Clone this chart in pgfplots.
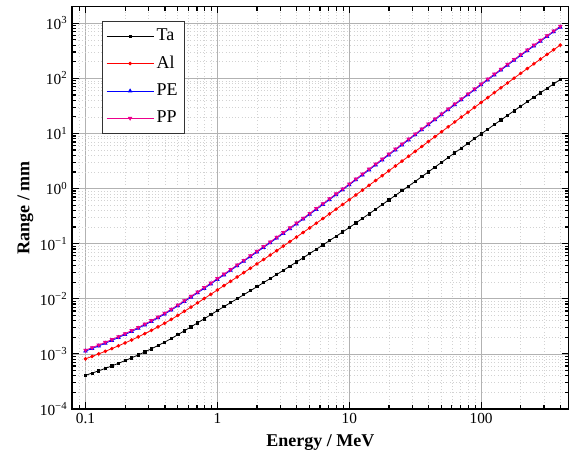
\documentclass[border=0pt]{standalone}
\usepackage{fontspec}
\setmainfont{Liberation Serif}
\usepackage{pgfplots}
\usepackage{pgfplotstable}
\pgfplotsset{compat=1.18}

% proton range (mm) vs energy (MeV)
\pgfplotstableread{
E      Ta        Al        PE        PP
0.1    4.074e-4  8.128e-4  1.122e-3  1.167e-3
0.1122 4.470e-4  8.992e-4  1.247e-3  1.297e-3
0.1259 4.924e-4  9.985e-4  1.391e-3  1.447e-3
0.1413 5.445e-4  1.113e-3  1.558e-3  1.620e-3
0.1585 6.044e-4  1.245e-3  1.751e-3  1.821e-3
0.1778 6.734e-4  1.399e-3  1.976e-3  2.055e-3
0.1995 7.534e-4  1.578e-3  2.239e-3  2.329e-3
0.2239 8.465e-4  1.787e-3  2.547e-3  2.649e-3
0.2512 9.557e-4  2.033e-3  2.912e-3  3.028e-3
0.2818 1.084e-3  2.326e-3  3.346e-3  3.480e-3
0.3162 1.236e-3  2.673e-3  3.864e-3  4.019e-3
0.3548 1.414e-3  3.086e-3  4.491e-3  4.671e-3
0.3981 1.631e-3  3.592e-3  5.264e-3  5.475e-3
0.4467 1.896e-3  4.215e-3  6.220e-3  6.469e-3
0.5012 2.224e-3  4.989e-3  7.413e-3  7.710e-3
0.5623 2.620e-3  5.933e-3  8.878e-3  9.233e-3
0.6310 3.092e-3  7.068e-3  1.065e-2  1.108e-2
0.7079 3.656e-3  8.431e-3  1.279e-2  1.330e-2
0.7943 4.328e-3  1.007e-2  1.539e-2  1.601e-2
0.8913 5.132e-3  1.206e-2  1.855e-2  1.929e-2
1      6.096e-3  1.446e-2  2.239e-2  2.329e-2
1.122  7.187e-3  1.730e-2  2.704e-2  2.812e-2
1.259  8.483e-3  2.072e-2  3.269e-2  3.400e-2
1.413  1.001e-2  2.484e-2  3.954e-2  4.112e-2
1.585  1.183e-2  2.979e-2  4.787e-2  4.978e-2
1.778  1.399e-2  3.573e-2  5.795e-2  6.027e-2
1.995  1.654e-2  4.290e-2  7.022e-2  7.303e-2
2.239  1.958e-2  5.156e-2  8.518e-2  8.859e-2
2.512  2.321e-2  6.202e-2  0.1034    0.1075
2.818  2.754e-2  7.476e-2  0.1258    0.1308
3.162  3.273e-2  9.015e-2  0.1531    0.1592
3.548  3.895e-2  0.1089    0.1866    0.1941
3.981  4.641e-2  0.1317    0.2278    0.2369
4.467  5.537e-2  0.1595    0.2784    0.2895
5.012  6.615e-2  0.1934    0.3408    0.3544
5.623  7.910e-2  0.2348    0.4175    0.4342
6.310  9.467e-2  0.2852    0.5119    0.5324
7.079  0.1134    0.3468    0.6281    0.6532
7.943  0.1359    0.4219    0.7712    0.8020
8.913  0.1630    0.5137    0.9478    0.9857
10     0.1956    0.6256    1.165     1.212
11.22  0.2369    0.7653    1.435     1.492
12.59  0.2869    0.9349    1.765     1.836
14.13  0.3477    1.144     2.174     2.261
15.85  0.4214    1.398     2.677     2.784
17.78  0.5110    1.712     3.299     3.431
19.95  0.6198    2.095     4.066     4.229
22.39  0.7520    2.566     5.014     5.215
25.12  0.9127    3.143     6.185     6.432
28.18  1.108     3.851     7.631     7.936
31.62  1.346     4.721     9.419     9.796
35.48  1.644     5.797     11.62     12.08
39.81  2.007     7.126     14.35     14.92
44.67  2.451     8.744     17.69     18.40
50.12  2.991     10.74     21.82     22.69
56.23  3.648     13.17     26.89     27.97
63.10  4.450     16.15     33.13     34.46
70.79  5.423     19.81     40.81     42.44
79.43  6.610     24.28     50.26     52.27
89.13  8.051     29.74     61.86     64.33
100    9.806     36.43     76.12     79.16
112.2  11.92     44.76     93.61     97.35
125.9  14.48     54.92     115.0     119.6
141.3  17.55     67.33     141.1     146.7
158.5  21.28     82.42     172.9     179.8
177.8  25.75     100.9     211.8     220.3
199.5  31.14     123.2     259.0     269.4
223.9  37.61     150.4     316.4     329.1
251.2  45.37     183.4     386.2     401.6
281.8  54.68     223.4     470.9     489.7
316.2  65.86     271.8     573.5     596.4
354.8  79.21     330.5     697.9     725.8
398.1  95.17     401.4     848.3     882.2
}\rangedata

\begin{document}
\begin{tikzpicture}
\begin{axis}[
  xmode=log, ymode=log,
  scale only axis,
  width=372.4pt, height=301.7pt,
  xmin=0.079, xmax=460, ymin=1e-4, ymax=2000,
  xtick={0.1,1,10,100},
  xticklabels={0.1,1,10,100},
  minor xtick={0.08,0.09,0.2,0.3,0.4,0.5,0.6,0.7,0.8,0.9,2,3,4,5,6,7,8,9,20,30,40,50,60,70,80,90,200,300,400},
  ytick={1e-4,1e-3,1e-2,1e-1,1,10,100,1000},
  yticklabels={10\textsuperscript{−4},10\textsuperscript{−3},10\textsuperscript{−2},10\textsuperscript{−1},10\textsuperscript{0},10\textsuperscript{1},10\textsuperscript{2},10\textsuperscript{3}},
  minor ytick={2e-4,3e-4,4e-4,5e-4,6e-4,7e-4,8e-4,9e-4,
    2e-3,3e-3,4e-3,5e-3,6e-3,7e-3,8e-3,9e-3,
    0.02,0.03,0.04,0.05,0.06,0.07,0.08,0.09,
    0.2,0.3,0.4,0.5,0.6,0.7,0.8,0.9,
    2,3,4,5,6,7,8,9,20,30,40,50,60,70,80,90,
    200,300,400,500,600,700,800,900},
  grid=both,
  major grid style={gray!60, line width=0.5pt},
  minor grid style={gray!35, dotted, line width=0.5pt},
  axis line style={line width=1.2pt},
  every tick/.style={black, line width=0.9pt},
  major tick length=5pt, minor tick length=3pt,
  tick label style={font=\fontsize{11.5}{13}\selectfont},
  label style={font=\fontsize{13.5}{15}\selectfont\bfseries},
  xlabel={Energy / MeV},
  ylabel={Range / mm},
  xlabel style={at={([yshift=-25pt]rel axis cs:0.5,0)}, anchor=center},
  ylabel style={at={([xshift=-35pt]rel axis cs:0,0.5)}, anchor=center},
  legend style={at={(rel axis cs:0.06,0.965)}, anchor=north west,
    draw=black!80, line width=0.6pt, fill=white,
    font=\fontsize{13.5}{15}\selectfont, row sep=6pt,
    inner xsep=3pt, inner ysep=4pt, cells={anchor=west}},
  legend image code/.code={\draw[mark repeat=2,mark phase=2] plot coordinates {(0cm,0cm) (0.62cm,0cm) (1.24cm,0cm)};},
]
\addplot[black, line width=0.6pt, mark=square*, mark size=0.85pt] table[x=E,y=Ta]{\rangedata};
\addlegendentry{Ta}
\addplot[red, line width=0.6pt, mark=*, mark size=1.05pt] table[x=E,y=Al]{\rangedata};
\addlegendentry{Al}
\addplot[blue, line width=0.6pt, mark=triangle*, mark size=1.4pt] table[x=E,y=PE]{\rangedata};
\addlegendentry{PE}
\addplot[magenta, line width=0.6pt, mark=triangle*, mark size=1.4pt, mark options={rotate=180}] table[x=E,y=PP]{\rangedata};
\addlegendentry{PP}
\end{axis}
\pgfresetboundingbox
\path[use as bounding box] ([xshift=-54pt,yshift=-38.25pt]current axis.south west) rectangle ([xshift=4.1pt,yshift=5pt]current axis.north east);
\end{tikzpicture}
\end{document}
